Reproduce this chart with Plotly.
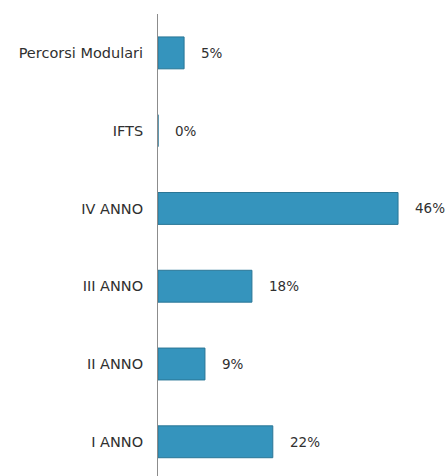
import plotly.graph_objects as go

categories = ["I ANNO", "II ANNO", "III ANNO", "IV ANNO", "IFTS", "Percorsi Modulari"]
values = [22, 9, 18, 46, 0, 5]
labels = [f"{v}%" for v in values]

TICK_FONT = dict(family="DejaVu Sans", size=14.5, color="#303030")
VAL_FONT = dict(family="DejaVu Sans", size=13.5, color="#303030")

fig = go.Figure()
fig.add_trace(go.Bar(
    x=values, y=categories, orientation="h",
    marker=dict(color="#3594bd", line=dict(color="#2a7696", width=1)),
    width=0.41,
    hoverinfo="skip",
))
for v, c, t in zip(values, categories, labels):
    fig.add_annotation(x=v, y=c, text=t, showarrow=False, xanchor="left",
                       xshift=15, font=VAL_FONT)

fig.update_layout(
    width=448, height=476,
    margin=dict(l=158, r=3, t=14, b=0),
    plot_bgcolor="white", paper_bgcolor="white",
    showlegend=False,
    font=TICK_FONT,
    xaxis=dict(range=[0, 55], visible=False, fixedrange=True, automargin=False),
    yaxis=dict(range=[-0.44, 5.5], showline=True, linecolor="#8c8c8c", linewidth=1,
               ticks="", ticklabelstandoff=11, showgrid=False, zeroline=False,
               automargin=False, tickfont=TICK_FONT, fixedrange=True),
)
fig.write_html(
    "out.html",
    config={"displayModeBar": False},
    post_script="document.body.style.margin='0';document.body.style.overflow='hidden';",
)
